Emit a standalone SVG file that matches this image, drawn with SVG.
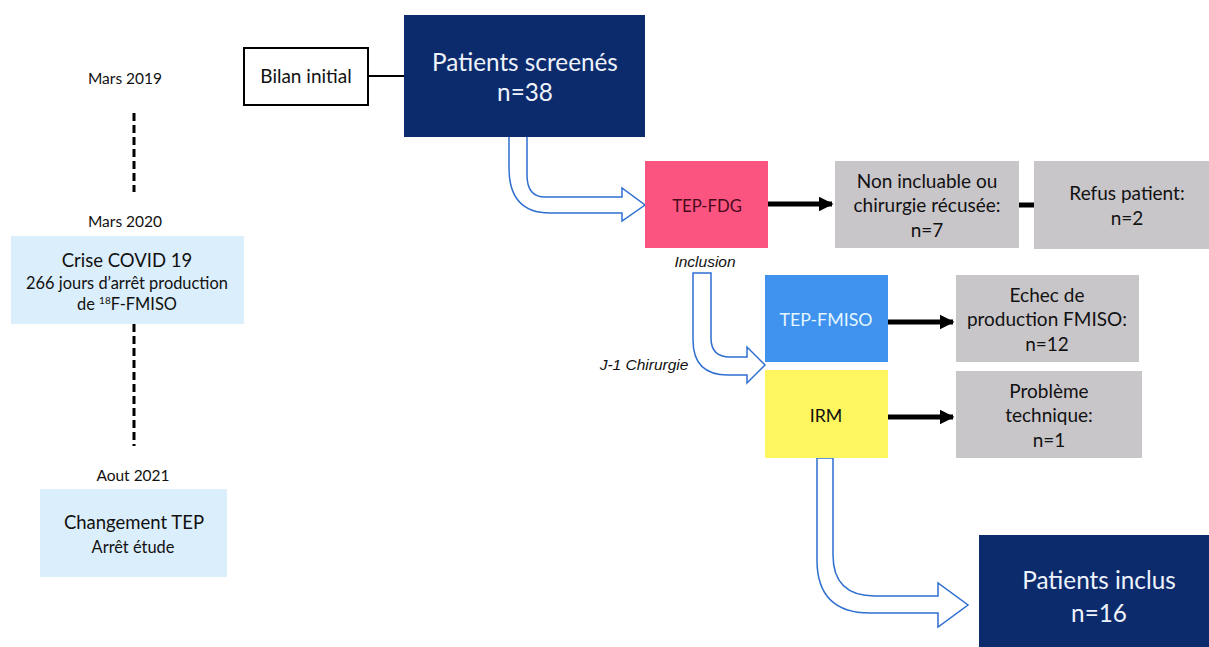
<svg xmlns="http://www.w3.org/2000/svg" width="1209" height="647" viewBox="0 0 1209 647">
<defs>
<marker id="ah" viewBox="0 0 10 10" refX="9" refY="5" markerWidth="3" markerHeight="3" orient="auto" markerUnits="strokeWidth">
<path d="M0,0 L10,5 L0,10 z" fill="#000"/>
</marker>
<style>
text{font-family:Lato,"Open Sans","Liberation Sans",sans-serif;text-anchor:middle}
.t15{font-size:15.5px;fill:#111}
.t16{font-size:16.4px;fill:#111}
.t18{font-size:18.5px;fill:#111}
.t19{font-size:19px;fill:#111}
.big{font-size:24.3px;fill:#eef3fb}
.it{font-family:"Liberation Sans",Arial,sans-serif;font-style:italic;font-size:15.5px;fill:#111}
.gray{fill:#c9c6ca}
.lb{fill:#dbeefb}
.dark{fill:#0c2b6c}
.thick{stroke:#000;stroke-width:5;fill:none}
.hollow{fill:#fff;stroke:#2f6fd0;stroke-width:1.5}
.dash{stroke:#000;stroke-width:3;stroke-dasharray:8,4;fill:none}
</style>
</defs>
<g id="timeline">
<text class="t15" x="125" y="84">Mars 2019</text>
<line class="dash" x1="134" y1="113" x2="134" y2="192"/>
<text class="t15" x="125" y="227">Mars 2020</text>
<line class="dash" x1="134" y1="324" x2="134" y2="446"/>
<text class="t15" x="133" y="481">Aout 2021</text>
</g>
<g id="crise">
<rect class="lb" x="11" y="236" width="233" height="88"/>
<text class="t18" x="127" y="267">Crise COVID 19</text>
<text class="t16" x="127" y="289">266 jours d’arrêt production</text>
<text class="t16" x="127" y="310">de <tspan font-size="10" dy="-6">18</tspan><tspan dy="6">F-FMISO</tspan></text>
</g>
<g id="changement">
<rect class="lb" x="40" y="489" width="187" height="88"/>
<text class="t18" x="134" y="529">Changement TEP</text>
<text class="t16" x="133" y="553">Arrêt étude</text>
</g>
<g id="connectors">
<line x1="368" y1="76" x2="404" y2="76" stroke="#000" stroke-width="2"/>
<path class="hollow" d="M509,130 V168 Q509,213 550,213 H622 V221 L645,205 L622,188 V197 H545 Q527,197 527,175 V130 Z"/>
<path class="hollow" d="M693,273 V340 Q693,375 728,375 H747 V383 L765,365 L747,347 V357 H730 Q711,357 711,338 V273 Z"/>
<path class="hollow" d="M817,458 V560 Q817,613 870,613 H938 V627 L968,605 L938,583 V596 H875 Q833,596 833,555 V458 Z"/>
<line class="thick" x1="768" y1="204" x2="832" y2="204" marker-end="url(#ah)"/>
<line class="thick" x1="1019" y1="205" x2="1034" y2="205"/>
<line class="thick" x1="888" y1="322" x2="953" y2="322" marker-end="url(#ah)"/>
<line class="thick" x1="888" y1="417" x2="953" y2="417" marker-end="url(#ah)"/>
</g>
<g id="bilan">
<rect x="244" y="48" width="124" height="57" fill="#fff" stroke="#000" stroke-width="2"/>
<text class="t19" x="306" y="83">Bilan initial</text>
</g>
<g id="screenes">
<rect class="dark" x="404" y="15" width="241" height="122"/>
<text class="big" x="525" y="71">Patients screenés</text>
<text class="big" x="525" y="101">n=38</text>
</g>
<g id="tepfdg">
<rect x="645" y="161" width="123" height="87" fill="#fc5480"/>
<text x="707" y="212" style="font-size:16.7px;fill:#4a0a1c">TEP-FDG</text>
<text class="it" x="705" y="267">Inclusion</text>
</g>
<g id="j1">
<text class="it" x="644" y="370">J-1 Chirurgie</text>
</g>
<g id="nonincluable">
<rect class="gray" x="835" y="161" width="184" height="87"/>
<text class="t19" x="927" y="188">Non incluable ou</text>
<text class="t19" x="927" y="212">chirurgie récusée:</text>
<text class="t19" x="927" y="237">n=7</text>
</g>
<g id="refus">
<rect class="gray" x="1034" y="161" width="175" height="88"/>
<text class="t19" x="1127" y="200">Refus patient:</text>
<text class="t19" x="1127" y="225">n=2</text>
</g>
<g id="tepfmiso">
<rect x="765" y="275" width="123" height="87" fill="#3f92ee"/>
<text x="826" y="326" style="font-size:17.8px;fill:#e4f6ff">TEP-FMISO</text>
</g>
<g id="irm">
<rect x="765" y="370" width="123" height="88" fill="#fdf65e"/>
<text x="826" y="422" style="font-size:17.8px;fill:#111">IRM</text>
</g>
<g id="echec">
<rect class="gray" x="956" y="275" width="183" height="87"/>
<text class="t19" x="1047" y="302">Echec de</text>
<text class="t19" x="1047" y="326">production FMISO:</text>
<text class="t19" x="1047" y="351">n=12</text>
</g>
<g id="probleme">
<rect class="gray" x="956" y="371" width="186" height="87"/>
<text class="t19" x="1049" y="398">Problème</text>
<text class="t19" x="1049" y="422">technique:</text>
<text class="t19" x="1049" y="447">n=1</text>
</g>
<g id="inclus">
<rect class="dark" x="979" y="535" width="230" height="112"/>
<text class="big" x="1099" y="589">Patients inclus</text>
<text class="big" x="1099" y="622">n=16</text>
</g>
</svg>
